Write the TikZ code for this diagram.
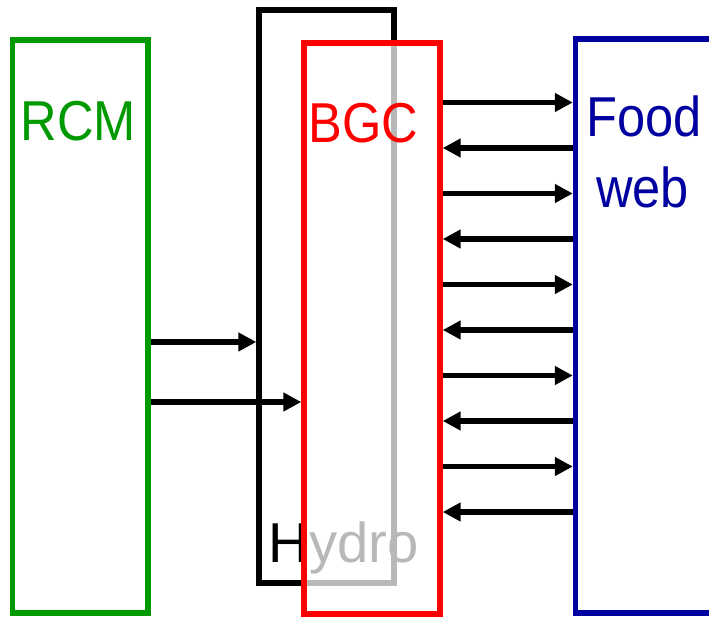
\documentclass[tikz,border=0pt]{standalone}
\usepackage{fontspec}
\usetikzlibrary{arrows.meta,calc}
\newfontfamily\lblfont[FakeStretch=0.9]{Liberation Sans}
\newfontfamily\hydfont{Liberation Sans}
\definecolor{rcmgreen}{RGB}{0,153,0}
\definecolor{bgcred}{RGB}{255,0,0}
\definecolor{foodblue}{RGB}{0,0,160}

\begin{document}
\begin{tikzpicture}[
    x=0.02cm, y=-0.02cm,
    box/.style={rectangle, line width=3.1pt, minimum width=2.7cm, minimum height=11.46cm, inner sep=0pt},
    lbl/.style={font=\lblfont\fontsize{32}{38}\selectfont, anchor=base, inner sep=0pt},
    arr/.style={-{Triangle[length=0.36cm, width=0.36cm]}, line width=3.2pt, black},
]

% ── Canvas (reference is cut at the right edge) ──
\useasboundingbox (0,0) rectangle (709,618);

% ── RCM ──
\node[box, draw=rcmgreen, minimum width=2.71cm] (rcm) at (80.25,326.5) {};
\node[lbl, text=rcmgreen] (rcmlbl) at (78.5,141) {RCM};

% ── Hydro (partly behind BGC) ──
\node[box, draw=black] (hydro) at (326.5,296.4) {};
\node[lbl, font=\hydfont\fontsize{32}{38}\selectfont, text=black] (hydrolbl) at (343.5,562) {Hydro};

% ── RCM forcing of Hydro ──
\draw[arr] (rcm.east |- 0,342) -- (hydro.west |- 0,342);

% ── BGC, semi-transparent over Hydro ──
\node[box, draw=bgcred, fill=white, fill opacity=0.72, minimum width=2.72cm, minimum height=11.42cm] (bgc) at (372,328.5) {};
\node[lbl, text=bgcred] (bgclbl) at (363.5,143) {BGC};

% ── RCM forcing of BGC ──
\draw[arr] (rcm.east |- 0,402) -- (bgc.west |- 0,402);

% ── Food web ──
\node[box, draw=foodblue, minimum width=3.99cm, minimum height=11.48cm] (food) at (675.25,326) {};
\node[lbl, text=foodblue] (foodlbl) at (644,137) {Food};
\node[lbl, text=foodblue] (weblbl) at (642.5,207) {web};

% ── BGC <-> food web exchange ──
\foreach \i [evaluate=\i as \yr using 102.5+91*\i,
             evaluate=\i as \yl using 148+91*\i] in {0,...,4} {
  \draw[arr] (bgc.east |- 0,\yr) -- (food.west |- 0,\yr);
  \draw[arr] (food.west |- 0,\yl) -- (bgc.east |- 0,\yl);
}

\end{tikzpicture}
\end{document}
